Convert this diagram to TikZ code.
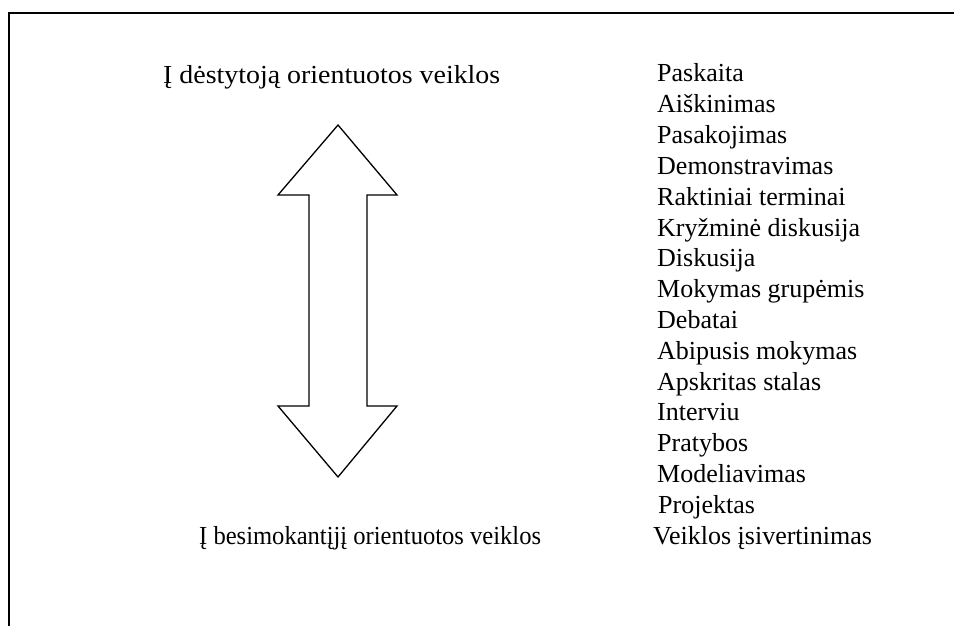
\documentclass[tikz,border=0pt]{standalone}
\usepackage{fontspec}
\setmainfont{Liberation Serif}
\begin{document}
\begin{tikzpicture}[x=1pt,y=-1pt,
  lbl/.style={anchor=base west,inner sep=0pt,font=\fontsize{26}{31}\selectfont},
  frameline/.style={line width=2.6pt,line cap=rect},
  arrowshape/.style={line width=1.3pt,line join=miter}]
\useasboundingbox (0,0) rectangle (954,626);
% frame (top and left edges only)
\draw[frameline] (954,13) -- (9,13) -- (9,640);
% double arrow
\draw[arrowshape] (338,125) -- (397,195) -- (367,195) -- (367,406) -- (397,406)
  -- (338,477) -- (278,406) -- (309,406) -- (309,195) -- (278,195) -- cycle;
% side labels
\node[lbl] (top) at (163,84) {\scalebox{1.073}[1]{Į dėstytoją orientuotos veiklos}};
\node[lbl] (bottom) at (199,544) {\scalebox{0.945}[1]{Į besimokantįjį orientuotos veiklos}};
% list
\foreach \t [count=\i from 0] in {Paskaita,Aiškinimas,Pasakojimas,Demonstravimas,
  Raktiniai terminai,Kryžminė diskusija,Diskusija,Mokymas grupėmis,Debatai,
  Abipusis mokymas,Apskritas stalas,Interviu,Pratybos,Modeliavimas}
  \node[lbl] (item\i) at (657,{82+\i*30.8}) {\t};
\node[lbl] (item14) at (658,{82+14*30.8}) {Projektas};
\node[lbl] (item15) at (653,{82+15*30.8}) {Veiklos įsivertinimas};
\end{tikzpicture}
\end{document}
